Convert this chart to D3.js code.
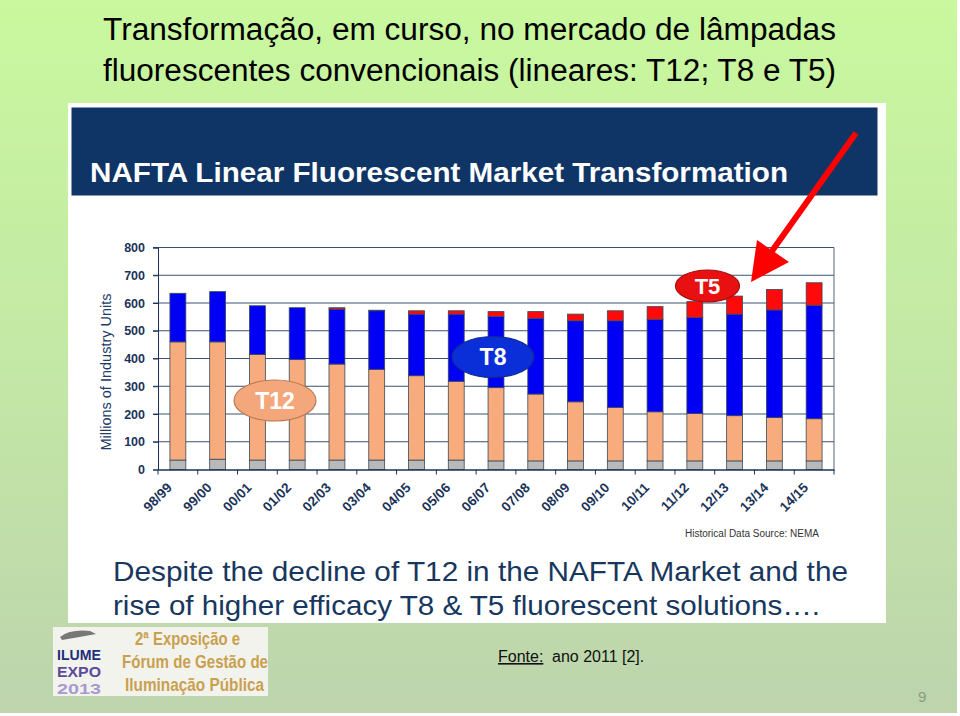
<!DOCTYPE html>
<html><head><meta charset="utf-8">
<script src="https://cdn.jsdelivr.net/npm/d3@7"></script>
<style>html,body{margin:0;padding:0;background:#fff;}svg{display:block;}</style>
</head><body>
<script>
// ---- data ----
const categories = ["98/99","99/00","00/01","01/02","02/03","03/04","04/05","05/06","06/07","07/08","08/09","09/10","10/11","11/12","12/13","13/14","14/15"];
const otherValues = [34,37,34,34,34,34,34,34,31,31,31,31,31,31,31,31,31];
const t12Values   = [426,423,381,362,346,327,304,284,264,241,213,193,177,171,163,156,152];
const t8Values    = [175,181,175,187,198,211,222,242,256,273,292,312,333,346,366,388,409];
const t5Values    = [0,0,0,0,5,2,12,12,18,24,24,36,46,57,65,74,81];
const yTicks = [0,100,200,300,400,500,600,700,800];
const seriesKeys = ["other","t12","t8","t5"];
const seriesColors = {other:"#b9b9b9", t12:"#f8ab7c", t8:"#0000f5", t5:"#ff0a0a"};

const W = 960, H = 716;
const FONT = "'Liberation Sans', Arial, sans-serif";
const svg = d3.select("body").append("svg").attr("width", W).attr("height", H)
  .style("font-family", FONT);

const defs = svg.append("defs");
const grad = defs.append("linearGradient").attr("id","bg").attr("x1",0).attr("y1",0).attr("x2",0).attr("y2",1);
grad.append("stop").attr("offset","0%").attr("stop-color","#c9f89e");
grad.append("stop").attr("offset","55%").attr("stop-color","#c3e6a6");
grad.append("stop").attr("offset","100%").attr("stop-color","#bdd4ad");
svg.append("rect").attr("width",957).attr("height",713).attr("fill","url(#bg)");

// slide title
const title = svg.append("text").attr("fill","#000").attr("font-size",31);
title.append("tspan").attr("x",103).attr("y",40).attr("textLength",733).attr("lengthAdjust","spacingAndGlyphs")
  .text("Transformação, em curso, no mercado de lâmpadas");
title.append("tspan").attr("x",103).attr("y",81).attr("textLength",733).attr("lengthAdjust","spacingAndGlyphs")
  .text("fluorescentes convencionais (lineares: T12; T8 e T5)");

// white panel
svg.append("rect").attr("x",68).attr("y",103).attr("width",818).attr("height",520).attr("fill","#fff");
svg.append("rect").attr("x",71.5).attr("y",107.5).attr("width",806).attr("height",88).attr("fill","#0f3566");
svg.append("text").attr("x",90).attr("y",182).attr("fill","#fff").attr("font-weight","bold")
  .attr("font-size",28).attr("textLength",698).attr("lengthAdjust","spacingAndGlyphs")
  .text("NAFTA Linear Fluorescent Market Transformation");

// chart
const x = d3.scaleBand().domain(categories).range([158,834]).paddingInner(0.6).paddingOuter(0.3);
const y = d3.scaleLinear().domain([0,800]).range([469.5,247.5]);
const navy = "#1b3358";

const rows = categories.map((c,i)=>({cat:c, other:otherValues[i], t12:t12Values[i], t8:t8Values[i], t5:t5Values[i]}));
const stack = d3.stack().keys(seriesKeys)(rows);

// gridlines
svg.append("g").selectAll("line").data(yTicks.slice(1)).join("line")
  .attr("x1",153).attr("x2",834).attr("y1",d=>y(d)).attr("y2",d=>y(d))
  .attr("stroke",navy).attr("stroke-width",1).attr("opacity",0.85);
svg.append("line").attr("x1",834).attr("x2",834).attr("y1",y(800)).attr("y2",y(0)).attr("stroke","#556677").attr("stroke-width",1);

// y axis
const yAxis = svg.append("g").attr("transform","translate(158,0)")
  .call(d3.axisLeft(y).tickValues(yTicks).tickSize(5).tickPadding(8));
yAxis.select(".domain").attr("stroke",navy);
yAxis.selectAll(".tick line").attr("stroke",navy);
yAxis.selectAll("text").attr("fill",navy).attr("font-weight","bold").attr("font-size",12.5)
  .attr("font-family",FONT);

svg.append("text").attr("transform","translate(111,372) rotate(-90)").attr("text-anchor","middle")
  .attr("fill","#223a66").attr("font-size",14.5).text("Millions of Industry Units");

// bars
svg.append("g").selectAll("g").data(stack).join("g")
  .attr("fill",d=>seriesColors[d.key])
  .selectAll("rect").data(d=>d.filter(p=>p[1]-p[0]>0)).join("rect")
  .attr("x",d=>x(d.data.cat)).attr("width",x.bandwidth())
  .attr("y",d=>y(d[1])).attr("height",d=>y(d[0])-y(d[1]))
  .attr("stroke","#3a4a5a").attr("stroke-width",0.8);

// x axis
const xAxis = svg.append("g").attr("transform",`translate(0,${y(0)})`)
  .call(d3.axisBottom(x).tickSize(0).tickFormat(""));
xAxis.select(".domain").attr("stroke",navy).attr("stroke-width",1.5);
const step = x.step();
const x0 = x.range()[0];
svg.append("g").selectAll("line").data(d3.range(categories.length+1)).join("line")
  .attr("x1",i=>x0 + i*step).attr("x2",i=>x0 + i*step)
  .attr("y1",y(0)).attr("y2",y(0)+5).attr("stroke",navy);
svg.append("g").selectAll("text").data(categories).join("text")
  .attr("transform",d=>`translate(${x(d)+x.bandwidth()/2-5},${y(0)+19}) rotate(-45)`)
  .attr("text-anchor","end").attr("fill",navy).attr("font-weight","bold").attr("font-size",13.5).text(d=>d);

svg.append("text").attr("x",685).attr("y",537).attr("fill","#333").attr("font-size",10).text("Historical Data Source: NEMA");

// annotation ellipses
function bubble(cx,cy,rx,ry,fill,stroke,label,fs){
  svg.append("ellipse").attr("cx",cx).attr("cy",cy).attr("rx",rx).attr("ry",ry)
    .attr("fill",fill).attr("stroke",stroke).attr("stroke-width",1.2);
  svg.append("text").attr("x",cx).attr("y",cy+fs*0.36).attr("text-anchor","middle")
    .attr("fill","#fff").attr("font-weight","bold").attr("font-size",fs).text(label);
}
bubble(275,400.5,41,20.5,"#f4a77a","#b87a55","T12",23);
bubble(493,357,41,20.5,"#0a2fd8","#102a90","T8",23);
bubble(707.5,286,32,16,"#e81010","#a01010","T5",22);

// red arrow
svg.append("line").attr("x1",856).attr("y1",133).attr("x2",772).attr("y2",251)
  .attr("stroke","#ff0000").attr("stroke-width",6);
svg.append("path").attr("d","M751,282 L757,240 L789,262 Z").attr("fill","#ff0000");

// bottom text
const bt = svg.append("text").attr("fill","#17375e").attr("font-size",28);
bt.append("tspan").attr("x",113).attr("y",581).attr("textLength",735).attr("lengthAdjust","spacingAndGlyphs")
  .text("Despite the decline of T12 in the NAFTA Market and the");
bt.append("tspan").attr("x",113).attr("y",615).attr("textLength",707).attr("lengthAdjust","spacingAndGlyphs")
  .text("rise of higher efficacy T8 & T5 fluorescent solutions….");

// logo
const lg = svg.append("g");
lg.append("rect").attr("x",53).attr("y",627).attr("width",215).attr("height",69).attr("fill","#f3f3ee");
lg.append("path").attr("d","M60,637 Q70,629 90,631 L96,634 Q80,637 62,640 Z").attr("fill","#777");
lg.append("text").attr("x",57).attr("y",660).attr("fill","#1f2f7a").attr("font-weight","bold").attr("font-size",15.5)
  .attr("textLength",44).attr("lengthAdjust","spacingAndGlyphs").text("ILUME");
lg.append("text").attr("x",57).attr("y",677).attr("fill","#5a4a9a").attr("font-weight","bold").attr("font-size",15.5)
  .attr("textLength",44).attr("lengthAdjust","spacingAndGlyphs").text("EXPO");
lg.append("text").attr("x",57).attr("y",694).attr("fill","#a89ad0").attr("font-weight","bold").attr("font-size",15.5)
  .attr("textLength",44).attr("lengthAdjust","spacingAndGlyphs").text("2013");
const gold = "#c9a04e";
lg.append("text").attr("x",135).attr("y",645).attr("fill",gold).attr("font-weight","bold").attr("font-size",19)
  .attr("textLength",105).attr("lengthAdjust","spacingAndGlyphs").text("2ª Exposição e");
lg.append("text").attr("x",122).attr("y",668).attr("fill",gold).attr("font-weight","bold").attr("font-size",19)
  .attr("textLength",146).attr("lengthAdjust","spacingAndGlyphs").text("Fórum de Gestão de");
lg.append("text").attr("x",125).attr("y",691).attr("fill",gold).attr("font-weight","bold").attr("font-size",19)
  .attr("textLength",139).attr("lengthAdjust","spacingAndGlyphs").text("Iluminação Pública");

// source
svg.append("text").attr("x",498).attr("y",662).attr("fill","#111").attr("font-size",16)
  .attr("text-decoration","underline").text("Fonte:");
svg.append("text").attr("x",552).attr("y",662).attr("fill","#111").attr("font-size",16).text("ano 2011 [2].");

// page number
svg.append("text").attr("x",918).attr("y",702).attr("fill","#8c9c84").attr("font-size",15).text("9");
</script>
</body></html>
